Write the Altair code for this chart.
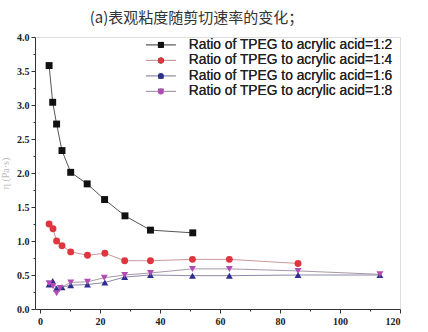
import altair as alt
import pandas as pd

series_names = [
    "Ratio of TPEG to acrylic acid=1:2",
    "Ratio of TPEG to acrylic acid=1:4",
    "Ratio of TPEG to acrylic acid=1:6",
    "Ratio of TPEG to acrylic acid=1:8",
]

x_12 = [3.0, 4.2, 5.5, 7.3, 10.2, 15.7, 21.5, 28.3, 36.8, 50.9]
y_12 = [3.58, 3.04, 2.72, 2.33, 2.01, 1.84, 1.61, 1.37, 1.16, 1.12]

x_14 = [3.0, 4.3, 5.5, 7.3, 10.2, 15.8, 21.6, 28.2, 36.8, 50.8, 63.1, 86.0]
y_14 = [1.25, 1.18, 1.00, 0.93, 0.84, 0.79, 0.82, 0.71, 0.71, 0.73, 0.73, 0.67]

x_16 = [3.0, 4.2, 5.5, 7.3, 10.2, 15.8, 21.6, 28.2, 36.8, 50.8, 63.1, 86.0, 113.3]
y_16 = [0.36, 0.41, 0.30, 0.32, 0.35, 0.36, 0.39, 0.47, 0.50, 0.49, 0.49, 0.50, 0.50]

x_18 = [3.0, 4.3, 5.5, 6.7, 10.2, 15.8, 21.4, 28.2, 36.8, 50.8, 63.1, 86.0, 113.3]
y_18 = [0.38, 0.34, 0.23, 0.31, 0.39, 0.40, 0.46, 0.50, 0.53, 0.59, 0.59, 0.56, 0.51]

x_ticks = [0, 10, 20, 30, 40, 50, 60, 70, 80, 90, 100, 110, 120]
y_ticks = [i * 0.25 for i in range(17)]

point_colors = ["#111111", "#e0343f", "#2e2e8e", "#b04cb4"]
line_colors = ["#555555", "#c99a9a", "#8a8aa8", "#a898aa"]
shapes = ["square", "circle", "triangle-up", "triangle-down"]

rows = []
for name, xs, ys in zip(series_names, [x_12, x_14, x_16, x_18], [y_12, y_14, y_16, y_18]):
    for i, (xv, yv) in enumerate(zip(xs, ys)):
        rows.append({"series": name, "x": xv, "y": yv, "order": i})
df = pd.DataFrame(rows)

xscale = alt.Scale(domain=[-1.7, 120], nice=False, zero=False)
yscale = alt.Scale(domain=[0, 4], nice=False)

xaxis = alt.Axis(
    values=x_ticks, labelOverlap=False,
    labelExpr="datum.value % 20 === 0 ? datum.label : ''",
    tickSize={"condition": {"test": "datum.value % 20 === 0", "value": 4}, "value": 2},
    grid=False, title=None, domainColor="#333", tickColor="#333",
    labelFont="Liberation Serif", labelFontWeight="bold", labelFontSize=10,
    labelColor="#222", labelPadding=3,
)
yaxis = alt.Axis(
    values=y_ticks, format=".1f", labelOverlap=False,
    labelExpr="datum.value % 0.5 === 0 ? datum.label : ''",
    tickSize={"condition": {"test": "datum.value % 0.5 === 0", "value": 4}, "value": 2},
    grid=False, title="η (Pa·s)", titleColor="#bbbbbb", titleFontSize=10,
    titleFont="Liberation Serif", titleFontWeight="normal", titlePadding=6,
    domainColor="#333", tickColor="#333",
    labelFont="Liberation Serif", labelFontWeight="bold", labelFontSize=10,
    labelColor="#222", labelPadding=2,
)

LX = 119   # legend left (relative to plot area)
LY = 1
SYM = 36
LEG_FONT = 13.8
ROWPAD = 0.5
LABEL_OFF = 21

common_leg = dict(
    title=None, orient="none", legendX=LX, legendY=LY,
    labelFont="Liberation Sans", labelFontSize=LEG_FONT, labelColor="#222",
    labelOffset=LABEL_OFF, symbolSize=SYM, rowPadding=ROWPAD, padding=0,
    labelLimit=400,
)

lines = alt.Chart(df).mark_line(strokeWidth=1).encode(
    x=alt.X("x:Q", scale=xscale, axis=xaxis),
    y=alt.Y("y:Q", scale=yscale, axis=yaxis),
    color=alt.Color(
        "series:N",
        scale=alt.Scale(domain=series_names, range=line_colors),
        legend=alt.Legend(
            symbolType="M-5,0H5", symbolStrokeWidth=1.2,
            labelOpacity=0, zindex=0, **common_leg,
        ),
    ),
    order="order:Q",
)

point_leg = alt.Legend(symbolStrokeWidth=0, zindex=1, **common_leg)

points = alt.Chart(df).mark_point(filled=True, size=48, opacity=1).encode(
    x=alt.X("x:Q", scale=xscale, axis=xaxis),
    y=alt.Y("y:Q", scale=yscale, axis=yaxis),
    color=alt.Color(
        "series:N",
        scale=alt.Scale(domain=series_names, range=point_colors),
        legend=point_leg,
    ),
    shape=alt.Shape(
        "series:N",
        scale=alt.Scale(domain=series_names, range=shapes),
        legend=point_leg,
    ),
)

chart = alt.layer(lines, points).resolve_scale(color="independent").properties(
    width=365, height=272,
    padding={"left": 35, "top": 37, "right": 28, "bottom": 23},
    autosize=alt.AutoSizeParams(type="none"),
    title=alt.TitleParams(
        "(a)表观粘度随剪切速率的变化；", font="Noto Sans CJK SC", fontSize=15,
        fontWeight="normal", color="#333", dx=-21, offset=6,
    ),
).configure_view(stroke="#333", strokeWidth=1).configure(background="white")

chart.save("out.html", embed_options={"renderer": "svg", "actions": False})
